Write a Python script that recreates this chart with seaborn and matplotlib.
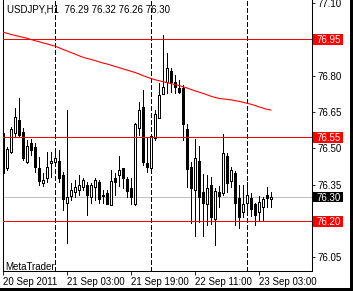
import numpy as np
import pandas as pd
import matplotlib
matplotlib.use("Agg")
import matplotlib.pyplot as plt
import matplotlib.transforms as mtransforms
from matplotlib.patches import Rectangle
import seaborn as sns

title_text = "USDJPY,H1  76.29 76.32 76.26 76.30"

opens = [76.562, 76.418, 76.486, 76.565, 76.617, 76.569, 76.445, 76.521, 76.507, 76.418,
         76.358, 76.376, 76.438, 76.445, 76.449, 76.390, 76.276, 76.304, 76.318, 76.328,
         76.339, 76.349, 76.298, 76.339, 76.360, 76.306, 76.317, 76.266, 76.379, 76.390,
         76.418, 76.373, 76.338, 76.270, 76.585, 76.672, 76.441, 76.418, 76.541, 76.626,
         76.723, 76.775, 76.819, 76.773, 76.750, 76.748, 76.579, 76.424, 76.327, 76.449,
         76.321, 76.269, 76.347, 76.208, 76.321, 76.317, 76.467, 76.364, 76.398, 76.297,
         76.238, 76.276, 76.297, 76.272, 76.238, 76.256, 76.307, 76.29]
highs = [76.600, 76.507, 76.589, 76.665, 76.706, 76.584, 76.534, 76.537, 76.522, 76.465,
         76.397, 76.486, 76.486, 76.493, 76.493, 76.402, 76.658, 76.358, 76.369, 76.390,
         76.376, 76.362, 76.356, 76.379, 76.369, 76.328, 76.328, 76.411, 76.400, 76.467,
         76.419, 76.383, 76.376, 76.605, 76.692, 76.741, 76.541, 76.555, 76.658, 76.768,
         76.968, 76.892, 76.830, 76.803, 76.782, 76.761, 76.600, 76.445, 76.538, 76.509,
         76.394, 76.390, 76.383, 76.335, 76.345, 76.559, 76.479, 76.424, 76.406, 76.349,
         76.349, 76.362, 76.316, 76.276, 76.302, 76.299, 76.342, 76.32]
lows = [76.390, 76.411, 76.479, 76.551, 76.547, 76.452, 76.438, 76.472, 76.404, 76.349,
        76.345, 76.362, 76.383, 76.431, 76.362, 76.246, 76.108, 76.287, 76.300, 76.307,
        76.328, 76.225, 76.273, 76.287, 76.273, 76.273, 76.269, 76.266, 76.307, 76.345,
        76.335, 76.298, 76.269, 76.266, 76.555, 76.431, 76.404, 76.402, 76.534, 76.625,
        76.723, 76.727, 76.734, 76.727, 76.727, 76.534, 76.339, 76.192, 76.137, 76.195,
        76.137, 76.184, 76.188, 76.101, 76.258, 76.307, 76.320, 76.339, 76.184, 76.170,
        76.215, 76.237, 76.219, 76.185, 76.206, 76.204, 76.256, 76.26]
closes = [76.397, 76.496, 76.579, 76.628, 76.555, 76.459, 76.510, 76.493, 76.424, 76.366,
          76.369, 76.424, 76.449, 76.459, 76.376, 76.290, 76.300, 76.328, 76.339, 76.349,
          76.369, 76.307, 76.349, 76.369, 76.291, 76.304, 76.269, 76.367, 76.360, 76.411,
          76.376, 76.326, 76.300, 76.599, 76.658, 76.445, 76.424, 76.551, 76.640, 76.720,
          76.754, 76.830, 76.773, 76.754, 76.734, 76.599, 76.413, 76.337, 76.459, 76.299,
          76.276, 76.335, 76.218, 76.326, 76.304, 76.479, 76.355, 76.411, 76.274, 76.218,
          76.269, 76.306, 76.248, 76.227, 76.278, 76.293, 76.297, 76.30]
ma_values = [76.979, 76.975, 76.970, 76.966, 76.962, 76.958, 76.954, 76.949, 76.944, 76.940,
             76.935, 76.931, 76.926, 76.922, 76.915, 76.908, 76.902, 76.895, 76.889, 76.882,
             76.876, 76.871, 76.867, 76.862, 76.857, 76.852, 76.848, 76.843, 76.838, 76.833,
             76.828, 76.823, 76.818, 76.813, 76.807, 76.800, 76.794, 76.788, 76.783, 76.779,
             76.775, 76.771, 76.767, 76.763, 76.759, 76.754, 76.749, 76.743, 76.737, 76.732,
             76.727, 76.721, 76.715, 76.710, 76.706, 76.704, 76.702, 76.700, 76.697, 76.694,
             76.690, 76.686, 76.682, 76.677, 76.671, 76.666, 76.661, 76.658]

tick_bars = [0, 16, 32, 48, 64]
tick_labels = ["20 Sep 2011", "21 Sep 03:00", "21 Sep 19:00", "22 Sep 11:00", "23 Sep 03:00"]
day_separators = [13, 37, 61]
price_ticks = [77.10, 76.80, 76.65, 76.50, 76.35, 76.05]
red_levels = [76.95, 76.545, 76.20]
red_level_labels = ["76.95", "76.55", "76.20"]
bid_level = 76.30
bid_label = "76.30"

df = pd.DataFrame({"bar": np.arange(len(opens)), "open": opens, "high": highs,
                   "low": lows, "close": closes, "ma": ma_values})

sns.set_style("white")
plt.rcParams["font.family"] = ["Liberation Sans", "DejaVu Sans"]
plt.rcParams["lines.scale_dashes"] = False
FS = 7

W, H = 353, 291
fig = plt.figure(figsize=(W / 100, H / 100), dpi=100)
fig.patch.set_facecolor("white")
ax_l, ax_r, ax_t, ax_b = 2.5, 312, 0, 271
ax = fig.add_axes([ax_l / W, 1 - ax_b / H, (ax_r - ax_l) / W, (ax_b - ax_t) / H])
ax.set_facecolor("white")

LW = 0.6
ax.axhline(bid_level, color="#C0C0C0", lw=LW, zorder=1, antialiased=False)
for xs in day_separators:
    ax.axvline(xs, color="black", lw=LW, ls=(0, (2.9, 1.45)), zorder=1, antialiased=False)

# wicks
ax.vlines(df["bar"], df["low"], df["high"], colors="black", lw=LW, zorder=3, antialiased=False)
# bodies
bottoms = np.minimum(df["open"], df["close"])
heights = np.maximum(np.abs(df["close"] - df["open"]), 0.0005)
colors = ["white" if c > o else "black" for o, c in zip(df["open"], df["close"])]
ax.bar(df["bar"], heights, bottom=bottoms, width=0.5, color=colors, edgecolor="black",
       linewidth=LW, zorder=4, antialiased=False)

sns.lineplot(data=df, x="bar", y="ma", color="#FF0000", lw=0.8, ax=ax, zorder=5,
             antialiased=True)
for lvl in red_levels:
    ax.axhline(lvl, color="#FF0000", lw=LW, zorder=6, antialiased=False)

ax.set_xlim(-0.125, 77.25)
ax.set_ylim(75.994, 77.112)
ax.set_xlabel("")
ax.set_ylabel("")

ax.set_xticks(tick_bars)
ax.set_xticklabels(tick_labels)
for lbl in ax.get_xticklabels():
    lbl.set_ha("left")
ax.yaxis.tick_right()
ax.set_yticks(price_ticks)
ax.set_yticklabels([f"{v:.2f}" for v in price_ticks])
ax.tick_params(axis="x", direction="out", length=3, width=LW, pad=1.5, labelsize=FS,
               colors="black", bottom=True)
ax.tick_params(axis="y", direction="out", length=2.2, width=LW, pad=2, labelsize=FS,
               colors="black", right=True, left=False)
for s in ["left", "right", "bottom"]:
    ax.spines[s].set_color("black")
    ax.spines[s].set_linewidth(0.75)
ax.spines["top"].set_visible(False)

trans = mtransforms.blended_transform_factory(ax.transAxes, ax.transData)
aw = ax_r - ax_l
px = (77.112 - 75.994) / (ax_b - ax_t)
def level_box(lvl, text, bg):
    ax.add_patch(Rectangle((1 + 1.0 / aw, lvl - 5.5 * px), 30.0 / aw, 10.5 * px,
                           transform=trans, facecolor=bg, edgecolor="none",
                           clip_on=False, zorder=10))
    ax.text(1 + 4.3 / aw, lvl, text, transform=trans, color="white", fontsize=FS,
            ha="left", va="center_baseline", clip_on=False, zorder=11)
for lvl, lab in zip(red_levels, red_level_labels):
    level_box(lvl, lab, "#FF0000")
level_box(bid_level, bid_label, "black")

fig.text(7 / W, 1 - 5 / H, title_text, ha="left", va="top", fontsize=FS, color="black")
fig.text(5 / W, 1 - 269.5 / H, "MetaTrader", ha="left", va="baseline", fontsize=FS, color="black")

fig.patches.append(Rectangle((350 / W, 0), 3 / W, 1, transform=fig.transFigure,
                             facecolor="black", edgecolor="none"))
fig.patches.append(Rectangle((0, 0), 1, 3 / H, transform=fig.transFigure,
                             facecolor="black", edgecolor="none"))

fig.savefig("out.png", dpi=100)
